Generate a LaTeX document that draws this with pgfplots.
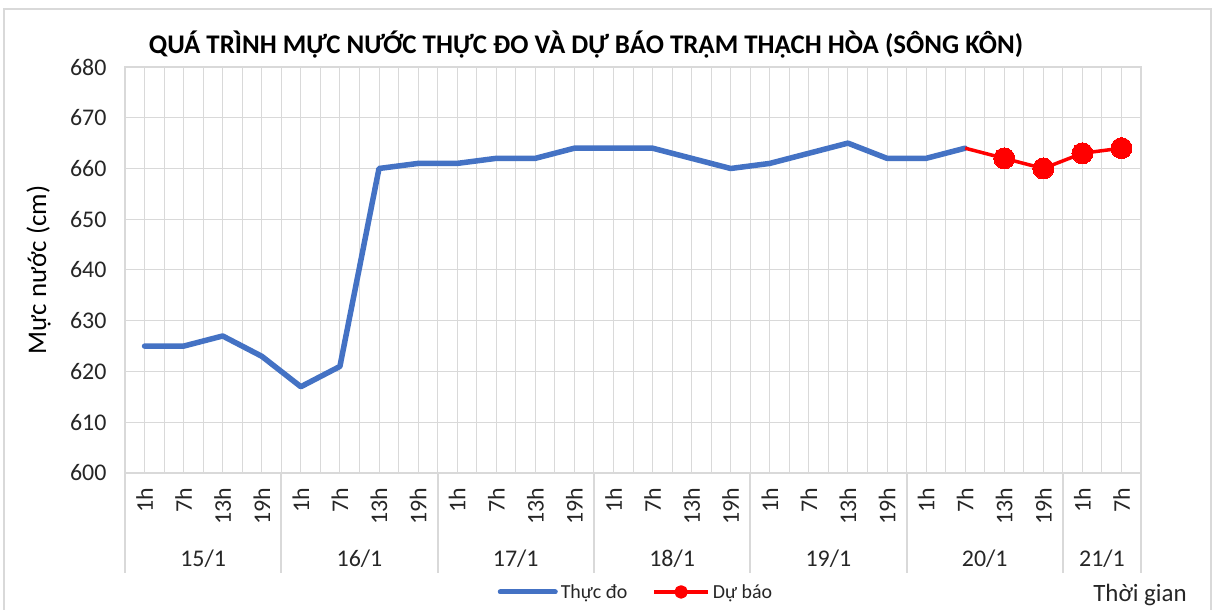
\documentclass[border=0pt]{standalone}
\usepackage{fontspec}
\setmainfont{Carlito}
\usepackage{pgfplots}
\pgfplotsset{compat=1.18}
\definecolor{bl}{HTML}{4472C4}
\definecolor{gr}{HTML}{D9D9D9}
\definecolor{tx}{HTML}{262626}
\begin{document}
\begin{tikzpicture}[x=1bp,y=1bp]
\fill[white] (0,0) rectangle (1217,610);
\draw[gr, line width=2bp] (4,-5) -- (4,601) -- (1211,601) -- (1211,-5);
\node[font=\bfseries\fontsize{27}{31}\selectfont, text=black] at (586,565) {QUÁ TRÌNH MỰC NƯỚC THỰC ĐO VÀ DỰ BÁO TRẠM THẠCH HÒA (SÔNG KÔN)};
\node[rotate=90, anchor=base, font=\fontsize{27}{31}\selectfont, text=black] at (46,340) {Mực nước (cm)};
\node[anchor=base, font=\fontsize{25}{29}\selectfont, text=tx] at (1140,8) {Thời gian};
\begin{axis}[
  at={(125bp,137bp)}, anchor=south west,
  scale only axis, width=1016bp, height=406bp,
  xmin=-0.5, xmax=25.5, ymin=600, ymax=680,
  ytick={600,610,...,680},
  xtick={0,...,25},
  xticklabels={1h,7h,13h,19h,1h,7h,13h,19h,1h,7h,13h,19h,1h,7h,13h,19h,1h,7h,13h,19h,1h,7h,13h,19h,1h,7h},
  minor x tick num=1,
  grid=both,
  major grid style={gr, line width=1bp},
  minor grid style={gr, line width=1bp},
  axis line style={gr, line width=1.5bp},
  tick style={draw=none},
  major tick length=0pt, minor tick length=0pt,
  /pgf/number format/assume math mode=true,
  yticklabel style={font=\fontsize{24}{28}\selectfont, text=tx, xshift=-15bp},
  xticklabel style={font=\fontsize{24}{28}\selectfont, text=tx, rotate=90, anchor=east, inner sep=0pt},
  xticklabel shift=15bp,
  clip=false,
  legend columns=2,
  legend style={at={(0.5034,-0.293)}, anchor=center, draw=none, fill=none,
    font=\fontsize{20}{24}\selectfont, text=tx,
    /tikz/every even column/.append style={column sep=22bp},
    nodes={inner sep=3bp}},
]
\addplot[bl, line width=5.5bp, line join=round, line cap=round,
  legend image code/.code={\draw[bl, line width=5bp, line cap=round] (0bp,0bp) -- (55bp,0bp);}]
  coordinates {(0,625)(1,625)(2,627)(3,623)(4,617)(5,621)(6,660)(7,661)(8,661)(9,662)(10,662)(11,664)(12,664)(13,664)(14,662)(15,660)(16,661)(17,663)(18,665)(19,662)(20,662)(21,664)};
\addlegendentry{Thực đo}
\addplot[red, line width=3.5bp, line join=round, mark=*, mark size=10.5bp, mark options={fill=red, draw=red, line width=0pt}, mark indices={2,3,4,5},
  legend image code/.code={\draw[red, line width=3.5bp] (0bp,0bp) -- (54bp,0bp); \fill[red] (27bp,0bp) circle (5bp);}]
  coordinates {(21,664)(22,662)(23,660)(24,663)(25,664)};
\addlegendentry{Dự báo}
\foreach \s in {-0.5,3.5,7.5,11.5,15.5,19.5,23.5,25.5}{
  \edef\tmp{\noexpand\draw[gr, line width=2bp] (axis cs:\s,600) -- ++(0bp,-100bp);}\tmp
}
\foreach \c/\l in {1.5/15\slash1,5.5/16\slash1,9.5/17\slash1,13.5/18\slash1,17.5/19\slash1,21.5/20\slash1,24.5/21\slash1}{
  \edef\tmp{\noexpand\node[anchor=base, font=\noexpand\fontsize{24}{28}\noexpand\selectfont, text=tx] at (axis cs:\c,600) [yshift=-94bp] {\l};}\tmp
}
\end{axis}
\pgfresetboundingbox
\useasboundingbox (0,0) rectangle (1217,610);
\end{tikzpicture}
\end{document}
